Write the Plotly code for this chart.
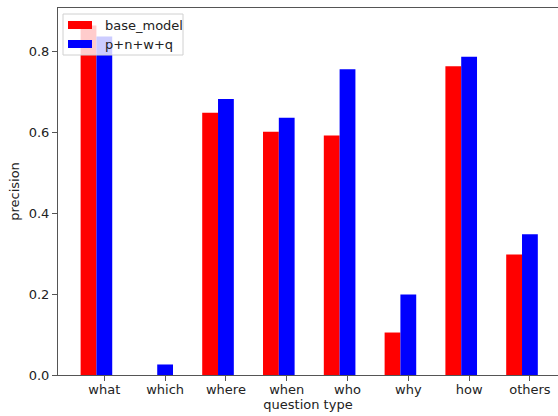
import plotly.graph_objects as go

# Question categories and per-model precision
categories = ["what", "which", "where", "when", "who", "why", "how", "others"]
base_model = [0.864, 0.0, 0.648, 0.601, 0.592, 0.105, 0.763, 0.298]
pnwq = [0.837, 0.026, 0.682, 0.636, 0.756, 0.199, 0.787, 0.348]
series_names = ["base_model", "p+n+w+q"]
series_colors = ["#ff0000", "#0000ff"]

W, H = 558, 416
L, T, B = 58, 8, 41          # plot area margins in px
plot_w = W - L
plot_h = H - T - B

bar_w = 0.26
fig = go.Figure()
for vals, name, color, off in zip([base_model, pnwq], series_names, series_colors,
                                  [-1.5 * bar_w, -0.5 * bar_w]):
    fig.add_trace(go.Bar(
        x=categories, y=vals, name=name,
        marker=dict(color=color, line=dict(width=0)),
        width=bar_w, offset=off, showlegend=False,
    ))

ymax = max(max(base_model), max(pnwq)) * 1.05
axis_col = "#555555"
font = dict(family="DejaVu Sans", size=13, color="#222222")

fig.update_layout(
    width=W, height=H,
    margin=dict(l=L, r=0, t=T, b=B),
    paper_bgcolor="white", plot_bgcolor="white",
    barmode="overlay",
    font=font,
    xaxis=dict(
        range=[-0.762, 7.462], showgrid=False, zeroline=False,
        showline=True, linecolor=axis_col, linewidth=1, mirror=True,
        ticks="outside", ticklen=5, tickcolor=axis_col, tickwidth=1,
        ticklabelstandoff=-3,
        title=dict(text="question type", font=dict(size=13), standoff=3),
        tickfont=dict(size=13),
    ),
    yaxis=dict(
        range=[0, ymax], showgrid=False, zeroline=False,
        showline=True, linecolor=axis_col, linewidth=1,
        ticks="outside", ticklen=5, tickcolor=axis_col, tickwidth=1,
        tickvals=[0, 0.2, 0.4, 0.6, 0.8], ticktext=["0.0", "0.2", "0.4", "0.6", "0.8"],
        title=dict(text="precision", font=dict(size=13), standoff=6),
        tickfont=dict(size=13),
    ),
)

# Legend drawn in the upper-left corner (pixel positions converted to paper coords)
def px(x):
    return (x - L) / plot_w

def py(y):
    return (H - B - y) / plot_h

shapes = [dict(type="rect", xref="paper", yref="paper",
               x0=px(63), x1=px(183), y0=py(55), y1=py(14),
               line=dict(color="#d0d0d0", width=1),
               fillcolor="rgba(255,255,255,0.8)", layer="above")]
annotations = []
for i, (name, color) in enumerate(zip(series_names, series_colors)):
    yc = 25 + i * 19
    shapes.append(dict(type="rect", xref="paper", yref="paper",
                       x0=px(68), x1=px(92), y0=py(yc + 4), y1=py(yc - 4),
                       line=dict(width=0), fillcolor=color, layer="above"))
    annotations.append(dict(xref="paper", yref="paper", x=px(103), y=py(yc),
                            text=name, showarrow=False, xanchor="left",
                            yanchor="middle", font=dict(size=13, color="#222222")))
fig.update_layout(shapes=shapes, annotations=annotations)

fig.write_html("out.html")
